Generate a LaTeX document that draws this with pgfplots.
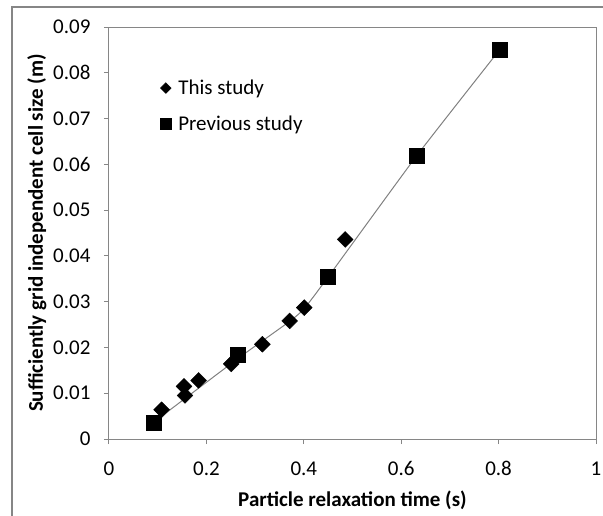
\documentclass[border=0pt]{standalone}
\usepackage{pgfplots}
\pgfplotsset{compat=1.18}
\usepackage{fontspec}
\setmainfont{Carlito}
\definecolor{axgray}{RGB}{134,134,134}
\definecolor{lngray}{RGB}{128,128,128}
\begin{document}
\begin{tikzpicture}[x=1pt,y=1pt]
\useasboundingbox (0,0) rectangle (603,515);
\draw[color=axgray, line width=1.2pt] (12,-5) -- (12,508) -- (610,508);
\begin{axis}[
  at={(109pt,76pt)}, anchor=south west,
  scale only axis, width=487pt, height=412pt,
  xmin=0, xmax=1, ymin=0, ymax=0.09,
  scaled x ticks=false, scaled y ticks=false,
  xtick={0,0.2,0.4,0.6,0.8,1},
  xticklabels={0,0.2,0.4,0.6,0.8,1},
  ytick={0,0.01,0.02,0.03,0.04,0.05,0.06,0.07,0.08,0.09},
  yticklabels={0,0.01,0.02,0.03,0.04,0.05,0.06,0.07,0.08,0.09},
  tick align=outside, major tick length=5pt,
  xtick pos=bottom, ytick pos=left,
  axis line style={draw=axgray, line width=1pt},
  tick style={draw=axgray, line width=1pt},
  ticklabel style={font=\fontsize{21}{24}\selectfont, text=black},
  xticklabel style={yshift=-14pt},
  yticklabel style={xshift=-10pt},
  xlabel={Particle relaxation time (s)},
  ylabel={Sufficiently grid independent cell size (m)},
  xlabel style={yshift=-8pt},
  ylabel style={yshift=0pt},
  label style={font=\fontsize{21}{24}\selectfont\bfseries},
  legend style={at={(axis cs:0.105,0.0789)}, anchor=north west, draw=none, fill=none,
    font=\fontsize{21}{24}\selectfont, row sep=16pt, inner sep=0pt,
    nodes={inner xsep=7pt}},
  legend cell align=left,
  legend image code/.code={\draw[#1] plot coordinates {(0.35em,0pt)};},
]
\addplot[forget plot, lngray, line width=1pt, smooth, tension=0.3] coordinates {
 (0.091,0.0036) (0.265,0.0176) (0.371,0.0257) (0.401,0.0285) (0.45,0.0354) (0.632,0.0619) (0.802,0.085)
};
\addplot[only marks, mark=square*, mark size=5.6pt, mark options={rotate=45, fill=black, draw=black},
  legend image post style={mark size=3.8pt}] coordinates {
 (0.108,0.0064) (0.154,0.0115) (0.156,0.0095) (0.184,0.0128) (0.251,0.0164)
 (0.315,0.0207) (0.371,0.0258) (0.401,0.0287) (0.485,0.0436)
};
\addlegendentry{This study}
\addplot[only marks, mark=square*, mark size=7.5pt, mark options={fill=black, draw=black},
  legend image post style={mark size=5.5pt}] coordinates {
 (0.091,0.0036) (0.265,0.0185) (0.450,0.0354) (0.632,0.0619) (0.802,0.0850)
};
\addlegendentry{Previous study}
\end{axis}
\end{tikzpicture}
\end{document}
